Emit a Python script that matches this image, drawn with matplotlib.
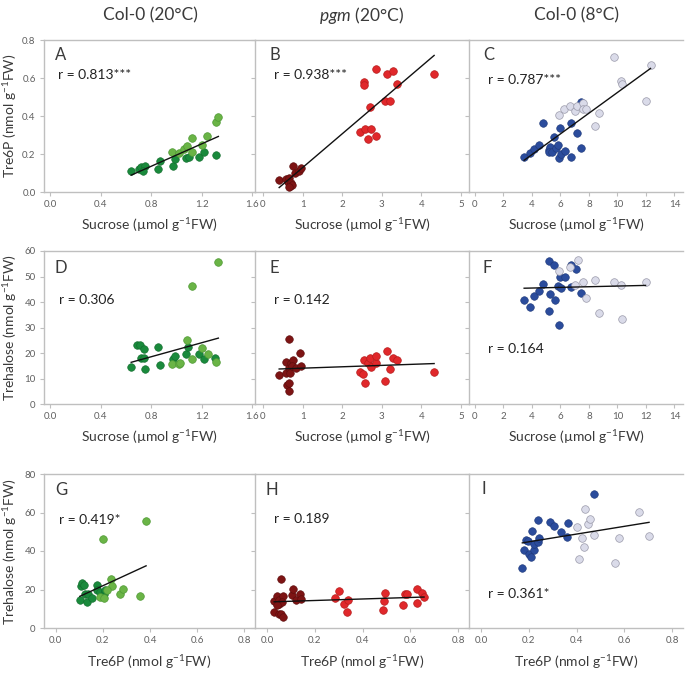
import numpy as np
import matplotlib
matplotlib.use("Agg")
import matplotlib.pyplot as plt

plt.rcParams['font.family'] = ['Lato', 'DejaVu Sans']
plt.rcParams['mathtext.fontset'] = 'custom'
plt.rcParams['mathtext.rm'] = 'Lato'
plt.rcParams['mathtext.it'] = 'Lato:italic'

# ---------------- data ----------------
columns = ["Col-0 (20°C)", "pgm (20°C)", "Col-0 (8°C)"]

# Panel A: sucrose vs Tre6P (Col-0 20°C)
A_dark_x = [0.64, 0.70, 0.72, 0.75, 0.73, 0.85, 0.87, 0.97, 0.99, 1.07, 1.10, 1.18, 1.22, 1.31]
A_dark_y = [0.108, 0.122, 0.131, 0.138, 0.108, 0.121, 0.161, 0.138, 0.173, 0.178, 0.184, 0.182, 0.213, 0.196]
A_light_x = [0.96, 1.02, 1.06, 1.08, 1.12, 1.12, 1.20, 1.24, 1.31, 1.33]
A_light_y = [0.213, 0.205, 0.225, 0.243, 0.284, 0.208, 0.248, 0.296, 0.366, 0.397]

# Panel B: sucrose vs Tre6P (pgm 20°C)
B_dark_x = [0.41, 0.57, 0.63, 0.66, 0.68, 0.72, 0.74, 0.66, 0.76, 0.80, 0.91, 0.95]
B_dark_y = [0.063, 0.066, 0.054, 0.072, 0.033, 0.045, 0.037, 0.028, 0.136, 0.098, 0.110, 0.128]
B_light_x = [2.45, 2.58, 2.66, 2.72, 2.85, 2.70, 2.55, 2.55, 2.85, 3.07, 3.21, 3.14, 3.28, 3.38, 4.32]
B_light_y = [0.316, 0.329, 0.278, 0.334, 0.294, 0.448, 0.579, 0.561, 0.645, 0.477, 0.479, 0.619, 0.636, 0.566, 0.622]

# Panel C: sucrose vs Tre6P (Col-0 8°C)
C_dark_x = [3.45, 3.87, 4.15, 4.51, 4.74, 5.16, 5.28, 5.21, 5.40, 5.56, 5.70, 5.87, 5.94, 6.05, 6.29, 6.76, 6.76, 7.16, 7.42, 7.42, 5.82]
C_dark_y = [0.186, 0.203, 0.226, 0.247, 0.365, 0.221, 0.238, 0.209, 0.212, 0.290, 0.230, 0.177, 0.337, 0.198, 0.217, 0.186, 0.365, 0.313, 0.233, 0.473, 0.247]
C_light_x = [5.92, 6.22, 6.64, 7.04, 7.16, 7.56, 7.58, 7.82, 8.40, 8.69, 9.74, 10.28, 10.33, 11.97, 12.32]
C_light_y = [0.407, 0.438, 0.452, 0.426, 0.452, 0.470, 0.435, 0.435, 0.346, 0.416, 0.711, 0.583, 0.569, 0.478, 0.668]

# Panel D: sucrose vs trehalose (Col-0 20°C)
D_dark_x = [0.64, 0.69, 0.71, 0.72, 0.74, 0.74, 0.75, 0.85, 0.87, 0.97, 0.99, 1.07, 1.09, 1.18, 1.22, 1.30]
D_dark_y = [14.6, 23.3, 23.3, 17.9, 21.5, 17.9, 13.7, 22.2, 15.3, 17.5, 18.9, 19.6, 22.2, 19.6, 17.5, 17.9]
D_light_x = [0.96, 1.02, 1.03, 1.08, 1.12, 1.12, 1.20, 1.25, 1.31, 1.33]
D_light_y = [15.7, 15.7, 16.2, 25.0, 17.5, 46.2, 21.8, 19.8, 16.6, 55.7]

# Panel E: sucrose vs trehalose (pgm 20°C)
E_dark_x = [0.41, 0.57, 0.61, 0.66, 0.66, 0.66, 0.59, 0.66, 0.69, 0.72, 0.76, 0.74, 0.83, 0.93, 0.95]
E_dark_y = [11.3, 12.0, 7.4, 5.2, 8.1, 25.3, 16.5, 14.2, 12.2, 16.1, 17.4, 14.8, 14.2, 20.1, 14.8]
E_light_x = [2.45, 2.53, 2.58, 2.55, 2.66, 2.70, 2.72, 2.85, 2.85, 3.07, 3.21, 3.14, 3.28, 3.38, 4.32]
E_light_y = [12.6, 11.6, 8.3, 17.4, 16.1, 18.2, 14.6, 16.1, 18.8, 9.1, 13.9, 20.6, 18.1, 17.4, 12.6]

# Panel F: sucrose vs trehalose (Col-0 8°C)
F_dark_x = [3.45, 3.87, 4.15, 4.51, 4.74, 5.16, 5.21, 5.28, 5.56, 5.59, 5.82, 5.87, 5.94, 6.05, 6.29, 6.74, 6.76, 7.11, 7.42]
F_dark_y = [40.6, 38.0, 42.3, 44.3, 46.9, 36.5, 55.9, 43.0, 54.7, 40.6, 46.2, 30.9, 49.7, 45.6, 50.0, 54.6, 45.8, 53.0, 43.6]
F_light_x = [5.92, 6.69, 7.20, 7.04, 7.58, 7.79, 8.40, 8.69, 9.74, 10.28, 10.33, 11.97]
F_light_y = [52.1, 53.6, 56.3, 46.5, 47.8, 41.7, 48.8, 35.7, 47.8, 46.5, 33.5, 48.0]

# Panel G: Tre6P vs trehalose (Col-0 20°C)
G_dark_x = [0.102, 0.105, 0.112, 0.119, 0.122, 0.136, 0.133, 0.154, 0.175, 0.175, 0.189, 0.204, 0.208]
G_dark_y = [14.8, 21.7, 23.5, 22.3, 17.6, 17.6, 13.6, 15.7, 22.3, 19.7, 18.8, 17.6, 19.7]
G_light_x = [0.200, 0.383, 0.234, 0.239, 0.218, 0.187, 0.206, 0.274, 0.285, 0.358]
G_light_y = [46.3, 55.7, 25.2, 21.9, 20.0, 16.2, 15.8, 17.9, 20.2, 16.7]

# Panel H: Tre6P vs trehalose (pgm 20°C)
H_dark_x = [0.03, 0.03, 0.04, 0.05, 0.05, 0.06, 0.05, 0.057, 0.069, 0.069, 0.061, 0.104, 0.111, 0.123, 0.140, 0.143, 0.04]
H_dark_y = [13.9, 8.3, 16.5, 14.8, 12.7, 25.7, 7.5, 7.1, 5.7, 16.7, 13.6, 17.0, 20.2, 14.4, 17.9, 15.3, 11.8]
H_light_x = [0.283, 0.300, 0.321, 0.340, 0.336, 0.494, 0.490, 0.486, 0.571, 0.579, 0.586, 0.629, 0.629, 0.647, 0.657]
H_light_y = [15.8, 19.1, 12.7, 14.4, 8.3, 18.3, 13.9, 9.2, 11.8, 17.6, 17.6, 20.5, 13.0, 18.3, 16.2]

# Panel I: Tre6P vs trehalose (Col-0 8°C)
I_dark_x = [0.173, 0.181, 0.187, 0.195, 0.200, 0.209, 0.215, 0.223, 0.223, 0.240, 0.243, 0.237, 0.289, 0.307, 0.336, 0.359, 0.362, 0.471]
I_dark_y = [31.1, 40.5, 45.7, 45.4, 38.4, 36.7, 50.6, 40.7, 43.7, 44.9, 46.6, 56.2, 55.0, 53.2, 50.1, 47.1, 54.8, 69.4]
I_light_x = [0.401, 0.411, 0.422, 0.429, 0.437, 0.447, 0.454, 0.471, 0.576, 0.562, 0.660, 0.703]
I_light_y = [52.3, 35.8, 46.6, 41.9, 61.9, 54.1, 56.7, 48.3, 46.6, 33.6, 60.2, 48.0]

letters = ["A", "B", "C", "D", "E", "F", "G", "H", "I"]
r_texts = ["r = 0.813***", "r = 0.938***", "r = 0.787***",
           "r = 0.306", "r = 0.142", "r = 0.164",
           "r = 0.419*", "r = 0.189", "r = 0.361*"]

suc_ticks = [[0.0, 0.4, 0.8, 1.2, 1.6], [0, 1, 2, 3, 4, 5], [0, 2, 4, 6, 8, 10, 12, 14]]
suc_ticklabels = [["0.0", "0.4", "0.8", "1.2", "1.6"], ["0", "1", "2", "3", "4", "5"],
                  ["0", "2", "4", "6", "8", "10", "12", "14"]]
t6p_ticks = [0.0, 0.2, 0.4, 0.6, 0.8]
t6p_ticklabels = ["0.0", "0.2", "0.4", "0.6", "0.8"]
treh_ticks_row2 = [0, 10, 20, 30, 40, 50, 60]
treh_ticks_row3 = [0, 20, 40, 60, 80]

# ---------------- styling ----------------
dark_cols = ["#1a8a3c", "#7d1414", "#2b4c9c"]
light_cols = ["#6ab446", "#e0282b", "#dadbe9"]
light_edges = ["#4f9a35", "#b71c1c", "#9a9aaa"]
dark_edges = ["#126a2c", "#5a0c0c", "#1e3878"]

W, H = 685, 674
fig = plt.figure(figsize=(W / 100, H / 100), dpi=100)

col_px = [(44, 211), (255, 214), (469, 214)]
row_px = [(40, 152), (251, 153), (474, 154)]
xlabel_center_px = [225, 437, 662]
ylabel_center_x_px = 10

xlims_suc = [(-0.05, 1.62), (-0.2, 5.2), (-0.42, 14.6)]
xlim_t6p = (-0.05, 0.845)
ylims = [(0, 0.8), (0, 60), (0, 80)]

panels = [
    (A_dark_x, A_dark_y, A_light_x, A_light_y),
    (B_dark_x, B_dark_y, B_light_x, B_light_y),
    (C_dark_x, C_dark_y, C_light_x, C_light_y),
    (D_dark_x, D_dark_y, D_light_x, D_light_y),
    (E_dark_x, E_dark_y, E_light_x, E_light_y),
    (F_dark_x, F_dark_y, F_light_x, F_light_y),
    (G_dark_x, G_dark_y, G_light_x, G_light_y),
    (H_dark_x, H_dark_y, H_light_x, H_light_y),
    (I_dark_x, I_dark_y, I_light_x, I_light_y),
]

letter_pos = [(0.052, 0.90), (0.07, 0.90), (0.065, 0.90),
              (0.052, 0.89), (0.07, 0.89), (0.065, 0.89),
              (0.052, 0.895), (0.05, 0.895), (0.06, 0.905)]
r_pos = [(0.066, 0.77), (0.089, 0.77), (0.089, 0.74),
         (0.071, 0.68), (0.089, 0.68), (0.089, 0.36),
         (0.071, 0.70), (0.089, 0.71), (0.089, 0.22)]

spine_col = "#bfbfbf"
text_col = "#3a3a3a"
tick_col = "#606060"

suc_label = "Sucrose (µmol g$^{-1}$FW)"
t6p_label = "Tre6P (nmol g$^{-1}$FW)"
treh_label = "Trehalose (nmol g$^{-1}$FW)"

for i, (dx, dy, lx, ly) in enumerate(panels):
    r, c = divmod(i, 3)
    x0, w = col_px[c]
    y0, h = row_px[r]
    ax = fig.add_axes([x0 / W, 1 - (y0 + h) / H, w / W, h / H])
    ax.set_facecolor("none")
    ax.scatter(dx, dy, s=30, color=dark_cols[c], edgecolors=dark_edges[c], linewidths=0.4, zorder=3)
    ax.scatter(lx, ly, s=30, color=light_cols[c], edgecolors=light_edges[c], linewidths=0.5, zorder=3)
    allx = np.array(dx + lx, dtype=float)
    ally = np.array(dy + ly, dtype=float)
    k, b = np.polyfit(allx, ally, 1)
    xs = np.array([allx.min(), allx.max()])
    ax.plot(xs, k * xs + b, color="#111111", lw=1.0, zorder=4)

    if r < 2:
        ax.set_xlim(*xlims_suc[c])
        ax.set_xticks(suc_ticks[c])
        ax.set_xticklabels(suc_ticklabels[c])
    else:
        ax.set_xlim(*xlim_t6p)
        ax.set_xticks(t6p_ticks)
        ax.set_xticklabels(t6p_ticklabels)
    ax.set_ylim(*ylims[r])
    if r == 0:
        ax.set_yticks([0.0, 0.2, 0.4, 0.6, 0.8])
        ax.set_yticklabels(["0.0", "0.2", "0.4", "0.6", "0.8"])
    elif r == 1:
        ax.set_yticks(treh_ticks_row2)
        ax.set_yticklabels([str(v) for v in treh_ticks_row2])
    else:
        ax.set_yticks(treh_ticks_row3)
        ax.set_yticklabels([str(v) for v in treh_ticks_row3])
    if c > 0:
        ax.tick_params(axis="y", labelleft=False)

    for s in ["top", "left", "bottom"]:
        ax.spines[s].set_color(spine_col)
        ax.spines[s].set_linewidth(1.0)
    ax.spines["right"].set_visible(False)
    ax.tick_params(axis="both", direction="out", length=3, width=0.8, color=spine_col,
                   labelsize=7, labelcolor=tick_col, pad=3)

    xl = suc_label if r < 2 else t6p_label
    ax.set_xlabel(xl, fontsize=10, color=text_col, va="center")
    ax.xaxis.set_label_coords(0.5, -(xlabel_center_px[r] - (y0 + h)) / h)
    if c == 0:
        ax.set_ylabel(t6p_label if r == 0 else treh_label, fontsize=10, color=text_col, va="center")
        ax.yaxis.set_label_coords(-(x0 - ylabel_center_x_px) / w, 0.5)

    ax.text(letter_pos[i][0], letter_pos[i][1], letters[i], transform=ax.transAxes,
            fontsize=12, color=text_col, ha="left", va="center")
    ax.text(r_pos[i][0], r_pos[i][1], r_texts[i], transform=ax.transAxes,
            fontsize=10, color="#222222", ha="left", va="center")

title_x = [150, 362, 576]
for c in range(3):
    if c == 1:
        fig.text(title_x[c] / W, 1 - 15 / H, r"$\it{pgm}$ (20°C)", fontsize=12.5, color=text_col,
                 ha="center", va="center")
    else:
        fig.text(title_x[c] / W, 1 - 15 / H, columns[c], fontsize=12.5, color=text_col,
                 ha="center", va="center")

fig.savefig("out.png", dpi=100)
